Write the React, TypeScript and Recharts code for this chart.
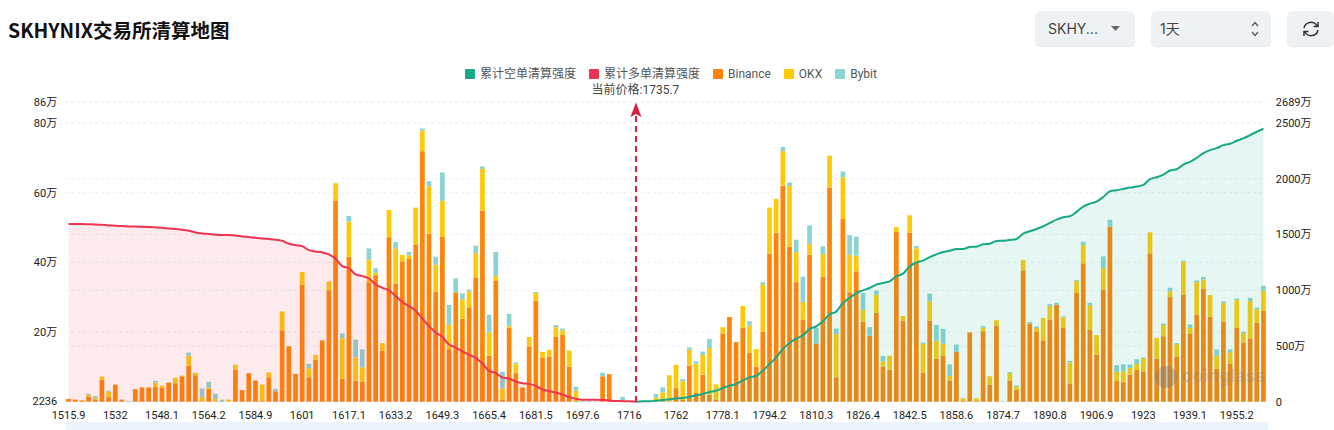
import React from "react";
import { ComposedChart, Bar, Area, XAxis, YAxis, CartesianGrid, Legend, ReferenceLine } from "recharts";

const categories = [
  "1515.9","1518.2","1520.5","1522.8","1525.1","1527.4","1529.7",
  "1532","1534.3","1536.6","1538.9","1541.2","1543.5","1545.8",
  "1548.1","1550.4","1552.7","1555","1557.3","1559.6","1561.9",
  "1564.2","1566.5","1568.8","1571.1","1573.4","1575.7","1582.6",
  "1584.9","1587.2","1589.5","1591.8","1594.1","1596.4","1598.7",
  "1601","1603.3","1605.6","1607.9","1610.2","1612.5","1614.8",
  "1617.1","1619.4","1621.7","1624","1626.3","1628.6","1630.9",
  "1633.2","1635.5","1637.8","1640.1","1642.4","1644.7","1647",
  "1649.3","1651.6","1653.9","1656.2","1658.5","1660.8","1663.1",
  "1665.4","1667.7","1670","1672.3","1674.6","1676.9","1679.2",
  "1681.5","1683.8","1686.1","1688.4","1690.7","1693","1695.3",
  "1697.6","1699.9","1702.2","1704.5","1706.8","1709.1","1713.7",
  "1716","1735.7","1750.5","1752.8","1755.1","1757.4","1759.7",
  "1762","1764.3","1766.6","1768.9","1771.2","1773.5","1775.8",
  "1778.1","1780.4","1782.7","1785","1787.3","1789.6","1791.9",
  "1794.2","1796.5","1798.8","1801.1","1803.4","1805.7","1808",
  "1810.3","1812.6","1814.9","1817.2","1819.5","1821.8","1824.1",
  "1826.4","1828.7","1831","1833.3","1835.6","1837.9","1840.2",
  "1842.5","1844.8","1847.1","1849.4","1851.7","1854","1856.3",
  "1858.6","1860.9","1863.2","1865.5","1867.8","1870.1","1872.4",
  "1874.7","1877","1879.3","1881.6","1883.9","1886.2","1888.5",
  "1890.8","1893.1","1895.4","1897.7","1900","1902.3","1904.6",
  "1906.9","1909.2","1911.5","1913.8","1916.1","1918.4","1920.7",
  "1923","1925.3","1927.6","1929.9","1932.2","1934.5","1936.8",
  "1939.1","1941.4","1943.7","1946","1948.3","1950.6","1952.9",
  "1955.2","1957.5","1959.8","1962.1","1964.4",
];

const binance = [
  0.8,0.6,0.3,1.5,0.6,6.3,1.3,4.9,0.6,0,
  3.6,4.1,4.1,4.2,4.0,5.5,5.3,7.3,10.4,7.6,
  0.1,3.7,0.1,0,0,9.2,3.3,8.2,6.1,0.2,
  7.0,3.0,20.5,15.9,8.0,33.6,7.0,12.1,17.6,32.0,
  57.7,6.6,41.6,6.0,5.8,34.3,36.3,14.7,47.2,33.9,
  40.3,41,45.2,71.9,48.3,31.6,47.3,15.1,31.4,23.8,
  27.1,35.7,54.8,13.2,34.8,0.6,21.3,8.2,4.1,15.9,
  29,12.7,13,18.7,19.2,10.1,0.2,0,0,0,
  7.3,7.9,0,0,0,0,0,0,0,0.5,
  0.1,3.9,0.5,10.3,2.5,7.8,2,0.5,19.6,24.3,
  17.1,21.2,14,10.1,20.1,42.5,48.5,62,44.4,34.3,
  23.5,42.2,16.7,35.9,61.5,7,52.4,31.4,37.4,23,
  18.9,25.5,10.1,9.2,48.7,23.3,48.5,39.8,8.3,23.3,
  12.4,13.3,6.1,14.4,0.2,19.9,0.2,20.2,4.9,21.9,
  0,6.1,3.4,37.7,22.4,20.2,17.6,23.5,27.8,21.2,
  5.2,31.2,39.7,20.7,13.5,32.2,50.2,6,5.6,7.8,
  9.1,8.7,42.6,12.3,18.8,30,13,30.8,19.6,25,
  32.5,24.4,9.4,23,11,21.2,17,18.2,22.7,26.2,
];
const okx = [
  0,0,0.2,0.5,0.5,0.9,1.6,0,0,0,
  0,0,0,1.3,0.6,0,1.6,0.2,2.8,0.7,
  1.2,0.2,0.7,0,0.6,1.4,0,0,0,4.7,
  1.4,0,5.4,0,0,3.6,2.6,1.3,0,2.5,
  5.0,11.6,10.1,6.7,4.1,6.5,0.7,2.1,7.8,10,
  1.8,1,10.5,5.9,13.5,7.7,10.3,7,0,5.6,
  4.5,6.9,12,6.7,1.3,3.2,0.5,2.7,0,2.7,
  2.2,1.6,1.9,2.7,1.2,4.6,3,0,0,0,
  0,0,0,0,0,0,0,0,1.2,2.2,
  7.5,6.7,5.4,4.6,8.4,5.6,13.4,4.5,1.8,0,
  0,6.3,7.9,5,13.4,13.2,9.7,9.9,17.5,8.6,
  5.1,3,0,6.5,9.1,12.4,12,10.8,4.5,3.3,
  0,5.2,1.4,4,1.4,1.3,5,4.2,8.3,5.5,
  5.1,3.3,1.3,0,0.8,0,0.8,1.1,2.4,1.5,
  0,2.1,1,2.9,0,0.9,6.4,4,0,3,
  6,3.4,5.2,6.9,5.6,6.2,0,2.5,3.1,1.9,
  1.7,3.8,6,6,3.2,1.7,3.5,9.4,1.6,9.3,
  2.6,6.2,3.8,5.3,3.2,8,2.7,10.7,3.8,5.6,
];
const bybit = [
  0,0,0,0.3,0.5,0,0.3,0,0,0.2,
  0,0,0,0.5,0,0,0,0,0.9,0,
  2.5,1.8,1.5,0.6,0,0,0,0,0,0,
  0,0.7,0,0,0,0,1.3,0,0,0,
  0,1.4,1.6,5.1,5.1,3.2,1.3,0,0,1.9,
  0,1,0,0.6,1.5,2.3,8.2,5.7,4,1.7,
  0.6,2.2,0.7,5.1,6.9,4.8,3.4,0.4,0,0,
  0.3,0,0,0.6,0.6,0,1.1,0.2,0.2,0.1,
  1,0,0,1.4,0.1,0,0,0,1,1.4,
  0,0,0.6,0.7,0.7,1,2.6,0,0,0,
  0,0,1.2,0,0.8,0,0,1.2,1,3.6,
  7.3,5.4,4.5,2.2,0,1.6,1.7,5.6,5.5,4.9,
  2.5,1.2,1.6,0,0,0,0,0.7,0.4,2.2,
  4.5,4.3,3.3,2,0,0,0,0.4,0,0,
  0.1,0.3,0.3,0,0.5,0.5,0,0.5,0.6,0.3,
  0.5,0.3,1,0.8,0,3.3,2,2,2,1,
  1.4,0.2,0,0,0.4,1,0.3,0.3,1,0.5,
  0.7,0,1.8,0.5,0.8,0.4,0.4,0.9,0.5,1.5,
];
const longCum: (number | null)[] = [
  1594,1594,1594,1592,1591,1588,1582,1579,1576,1573,
  1571,1570,1567,1564,1561,1555,1549,1543,1534,1519,
  1510,1504,1498,1495,1495,1492,1483,1477,1471,1465,
  1459,1453,1444,1417,1405,1396,1360,1348,1339,1321,
  1282,1216,1198,1142,1127,1106,1052,1022,1001,947,
  896,857,816,747,678,621,582,513,486,453,
  421,394,343,277,259,217,208,181,166,160,
  142,110,95,83,65,41,26,17,17,17,
  16,11,6,5,3,0,
];
const shortStart = "1735.7";
const shortCum = [
  0,3,4,9,15,21,30,33,45,57,
  69,87,99,123,144,159,191,218,233,278,
  338,398,473,527,565,595,652,676,721,784,
  808,885,930,975,999,1020,1050,1065,1080,1125,
  1149,1215,1248,1266,1298,1322,1343,1355,1370,1370,
  1388,1391,1412,1418,1442,1445,1451,1460,1508,1529,
  1550,1574,1604,1634,1655,1664,1703,1750,1777,1795,
  1837,1888,1897,1909,1921,1930,1945,1996,2014,2038,
  2074,2086,2128,2152,2188,2230,2257,2275,2302,2314,
  2341,2362,2392,2422,2449,
];

const leftTicks = [0.2236, 20, 40, 60, 80, 86];
const leftTickLabels = ["2236", "20万", "40万", "60万", "80万", "86万"];
const rightTicks = [0, 500, 1000, 1500, 2000, 2500, 2689];
const rightTickLabels = ["0", "500万", "1000万", "1500万", "2000万", "2500万", "2689万"];
const seriesNames = ["累计空单清算强度", "累计多单清算强度", "Binance", "OKX", "Bybit"];
const seriesColors = ["#17a985", "#ee3450", "#ff850a", "#ffc90a", "#8cd4d3"];
const currentPrice = "1735.7";
const title = "SKHYNIX交易所清算地图";

const shortStartIndex = categories.indexOf(shortStart);
const table = categories.map((price, i) => ({
  price,
  binance: binance[i],
  okx: okx[i],
  bybit: bybit[i],
  long: i < longCum.length ? longCum[i] : null,
  short: i >= shortStartIndex ? shortCum[i - shortStartIndex] : null,
}));

const FONT = "Roboto, 'Noto Sans CJK SC', sans-serif";
const CJK = "'Noto Sans CJK SC', Roboto, sans-serif";

const ChartLegend = () => (
  <div style={{ display: "flex", alignItems: "center", height: 14, paddingLeft: 465, fontFamily: FONT, fontSize: 12, color: "#555", lineHeight: "14px" }}>
    {seriesNames.map((n, i) => (
      <span key={n} style={{ display: "inline-flex", alignItems: "center", marginRight: 13 }}>
        <span style={{ width: 10, height: 10, background: seriesColors[i], marginRight: 5, borderRadius: 1 }} />
        {n}
      </span>
    ))}
  </div>
);

const PriceMarker = (props: any) => {
  const top = Math.min(props.y1, props.y2);
  const bottom = Math.max(props.y1, props.y2);
  const x = props.x1;
  return (
    <g>
      <line x1={x} y1={top + 14} x2={x} y2={bottom} stroke="#d8203c" strokeWidth={2} strokeDasharray="6 4" />
      <polygon points={`${x},${top + 0.5} ${x + 5.5},${top + 15} ${x},${top + 12} ${x - 5.5},${top + 15}`} fill="#d8203c" />
      <text x={x - 0.5} y={top - 8} textAnchor="middle" fontSize={12} fill="#444" fontFamily={FONT}>{`当前价格:${currentPrice}`}</text>
    </g>
  );
};

const box: React.CSSProperties = {
  position: "absolute", top: 11, height: 35, background: "#eff2f5", borderRadius: 6,
  boxShadow: "0 1px 1px rgba(0,0,0,0.10)", fontFamily: "Inter, 'Noto Sans CJK SC', sans-serif", fontSize: 14, color: "#444",
  lineHeight: "35px", boxSizing: "border-box",
};

export default function App() {
  return (
    <div style={{ position: "absolute", left: 0, top: 0, width: 1334, height: 430, overflow: "hidden", background: "#fff" }}>
      <div style={{ position: "absolute", left: 8, top: 15, fontFamily: CJK, fontWeight: 700, fontSize: 19.5, lineHeight: "30px", color: "#111" }}>{title}</div>
      <div style={{ ...box, left: 1035, width: 100, paddingLeft: 13 }}>
        SKHY...
        <svg width="10" height="6" style={{ position: "absolute", left: 76, top: 15 }}><polygon points="0,0 9,0 4.5,5" fill="#666" /></svg>
      </div>
      <div style={{ ...box, left: 1151, width: 120, paddingLeft: 9 }}>
        1天
        <svg width="10" height="18" style={{ position: "absolute", left: 99, top: 9 }}>
          <path d="M2 6 L5 2.5 L8 6 M2 12 L5 15.5 L8 12" fill="none" stroke="#555" strokeWidth="1.2" />
        </svg>
      </div>
      <div style={{ ...box, left: 1287, width: 47 }}>
        <svg width="18" height="18" viewBox="0 0 18 18" style={{ position: "absolute", left: 15, top: 9 }}>
          <path d="M2 8 A7 7 0 0 1 15 6 M16 2 V6.5 H11.5 M16 10 A7 7 0 0 1 3 12 M2 16 V11.5 H6.5" fill="none" stroke="#333" strokeWidth="1.5" />
        </svg>
      </div>

      <div style={{ position: "absolute", left: 66, top: 422, width: 1202, height: 8, background: "#edf3fb" }} />

      <div style={{ position: "absolute", left: 0, top: 0 }}>
        <ComposedChart width={1334} height={430} data={table} margin={{ top: 88, right: 0, bottom: 0, left: 0 }} barCategoryGap={0}>
          <CartesianGrid yAxisId="left" vertical={false} stroke="#eef0f2" strokeDasharray="3 3" />
          <CartesianGrid yAxisId="right" vertical={false} stroke="#eef0f2" strokeDasharray="3 3" />
          <XAxis dataKey="price" type="category" xAxisId={0} interval={6} axisLine={false} tickLine={false} tickSize={0} tickMargin={9} tick={{ fontSize: 11, fill: "#222", fontFamily: FONT }} height={28.3} />
          <YAxis yAxisId="left" orientation="left" width={65.2} domain={[0, 86]} ticks={leftTicks} interval={0} axisLine={false} tickLine={false} tickSize={0} tickMargin={8}
            tickFormatter={(v: number) => leftTickLabels[leftTicks.indexOf(v)]} tick={{ fontSize: 11, fill: "#222", fontFamily: FONT }} />
          <YAxis yAxisId="right" orientation="right" width={67.2} domain={[0, 2689]} ticks={rightTicks} interval={0} axisLine={false} tickLine={false} tickSize={0} tickMargin={9}
            tickFormatter={(v: number) => rightTickLabels[rightTicks.indexOf(v)]} tick={{ fontSize: 11, fill: "#222", fontFamily: FONT }} />
          <Legend verticalAlign="top" content={<ChartLegend />} wrapperStyle={{ position: "absolute", top: 67, left: 0, width: 1334 }} />
          <Bar yAxisId="left" dataKey="binance" name="Binance" stackId="a" fill={seriesColors[2]} barSize={4.7} isAnimationActive={false} />
          <Bar yAxisId="left" dataKey="okx" name="OKX" stackId="a" fill={seriesColors[3]} barSize={4.7} isAnimationActive={false} />
          <Bar yAxisId="left" dataKey="bybit" name="Bybit" stackId="a" fill={seriesColors[4]} barSize={4.7} isAnimationActive={false} />
          <Area yAxisId="right" dataKey="long" name={seriesNames[1]} type="monotone" stroke={seriesColors[1]} strokeWidth={2} fill={seriesColors[1]} fillOpacity={0.1} dot={false} activeDot={false} connectNulls={false} isAnimationActive={false} {...({ zIndex: 500 } as any)} />
          <Area yAxisId="right" dataKey="short" name={seriesNames[0]} type="monotone" stroke={seriesColors[0]} strokeWidth={2} fill={seriesColors[0]} fillOpacity={0.11} dot={false} activeDot={false} connectNulls={false} isAnimationActive={false} {...({ zIndex: 500 } as any)} />
          <ReferenceLine yAxisId="left" x={currentPrice} shape={<PriceMarker />} {...({ zIndex: 600 } as any)} />
        </ComposedChart>
      </div>

      <div style={{ position: "absolute", left: 1155, top: 366, width: 22, height: 22, borderRadius: 11, background: "rgba(120,120,120,0.38)" }} />
      <div style={{ position: "absolute", left: 1182, top: 364, fontFamily: "Inter, sans-serif", fontWeight: 700, fontSize: 17, lineHeight: "24px", letterSpacing: 0.4, color: "rgba(130,130,130,0.30)" }}>coinglass</div>
    </div>
  );
}
